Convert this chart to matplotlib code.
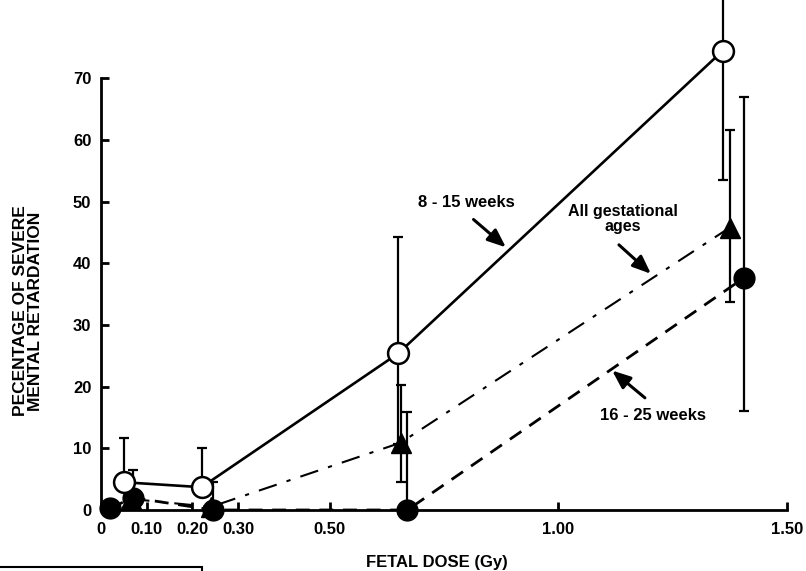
import matplotlib.pyplot as plt
import numpy as np
from matplotlib.patches import Rectangle

plt.rcParams['font.family'] = ['Liberation Sans', 'DejaVu Sans']
plt.rcParams['font.weight'] = 'bold'

# 8 - 15 weeks (open circles)
dose_8_15 = [0.05, 0.22, 0.65, 1.36]
pct_8_15 = [4.5, 3.7, 25.4, 74.5]
lo_8_15 = [4.5, 3.7, 10.7, 53.5]
hi_8_15 = [11.7, 10.1, 44.2, 85.0]

# all gestational ages (triangles)
dose_all = [0.065, 0.24, 0.655, 1.375]
pct_all = [1.8, 0.5, 10.9, 45.8]
lo_all = [1.8, 0.5, 4.6, 33.7]
hi_all = [1.8, 0.5, 20.3, 61.7]

# 16 - 25 weeks (filled circles)
dose_16_25 = [0.02, 0.07, 0.245, 0.67, 1.405]
pct_16_25 = [0.3, 2.0, 0.0, 0.0, 37.6]
lo_16_25 = [0.3, 2.0, 0.0, 0.0, 16.0]
hi_16_25 = [0.3, 6.5, 4.5, 15.9, 67.0]

xticks = [0, 0.10, 0.20, 0.30, 0.50, 1.00, 1.50]
xticklabels = ['0', '0.10', '0.20', '0.30', '0.50', '1.00', '1.50']
yticks = [0, 10, 20, 30, 40, 50, 60, 70]

fig = plt.figure(figsize=(8.06, 5.71), dpi=100)
ax = fig.add_axes([101 / 806, 61 / 571, 686 / 806, 510 / 571])


def yerr(y, lo, hi):
    y = np.array(y)
    return [y - np.array(lo), np.array(hi) - y]


# error bars
for x, y, lo, hi in [(dose_8_15, pct_8_15, lo_8_15, hi_8_15),
                     (dose_all, pct_all, lo_all, hi_all),
                     (dose_16_25, pct_16_25, lo_16_25, hi_16_25)]:
    ax.errorbar(x, y, yerr=yerr(y, lo, hi), fmt='none', ecolor='black',
                elinewidth=1.6, capsize=3.5, capthick=1.6, zorder=2, clip_on=False)

# lines
ax.plot(dose_8_15, pct_8_15, color='black', lw=1.9, zorder=3)
ax.plot(dose_all, pct_all, color='black', lw=1.5, dashes=(9, 5, 2, 5), zorder=3)
ax.plot(dose_16_25, pct_16_25, color='black', lw=2.0, dashes=(5, 3.5), zorder=3)

# markers
ax.plot(dose_all, pct_all, linestyle='none', marker='^', ms=15, color='black', zorder=4, clip_on=False)
ax.plot(dose_16_25, pct_16_25, linestyle='none', marker='o', ms=15, color='black', zorder=5, clip_on=False)
ax.plot(dose_8_15, pct_8_15, linestyle='none', marker='o', ms=15, mfc='white', mec='black',
        mew=1.8, zorder=6, clip_on=False)

ax.set_xlim(0, 1.5)
ax.set_ylim(0, 82.7)
ax.spines['top'].set_visible(False)
ax.spines['right'].set_visible(False)
ax.spines['left'].set_bounds(0, 70)
ax.spines['left'].set_linewidth(2)
ax.spines['bottom'].set_linewidth(2)

ax.set_xticks(xticks)
ax.set_xticklabels(xticklabels)
ax.set_yticks(yticks)
ax.tick_params(direction='in', length=6, width=2, labelsize=12, pad=7)
ax.tick_params(axis='x', pad=9)

fig.text(437 / 806, 1 - 562 / 571, 'FETAL DOSE (Gy)', ha='center', va='center',
         fontsize=12, fontweight='bold')
ax.set_ylabel('PECENTAGE OF SEVERE\nMENTAL RETARDATION', fontsize=12.5, fontweight='bold',
              linespacing=0.95)
ax.yaxis.set_label_coords(-0.085, 0.39)

arrow = dict(arrowstyle='-|>,head_length=1.1,head_width=0.45', color='black', lw=2.2)
ax.text(0.80, 49.8, '8 - 15 weeks', ha='center', va='center', fontsize=12)
ax.annotate('', xy=(0.89, 42.3), xytext=(0.81, 47.4), arrowprops=arrow)
ax.text(1.141, 47.2, 'All gestational\nages', ha='center', va='center', fontsize=11.5,
        linespacing=1.05)
ax.annotate('', xy=(1.207, 38.0), xytext=(1.128, 43.3), arrowprops=arrow)
ax.text(1.207, 15.4, '16 - 25 weeks', ha='center', va='center', fontsize=12)
ax.annotate('', xy=(1.113, 22.9), xytext=(1.194, 17.9), arrowprops=arrow)

fig.add_artist(Rectangle((-0.01, -0.01), 202 / 806 + 0.01, 4 / 571 + 0.01,
                         transform=fig.transFigure, fill=False, lw=1.5, color='black'))

fig.savefig('out.png', dpi=100)
